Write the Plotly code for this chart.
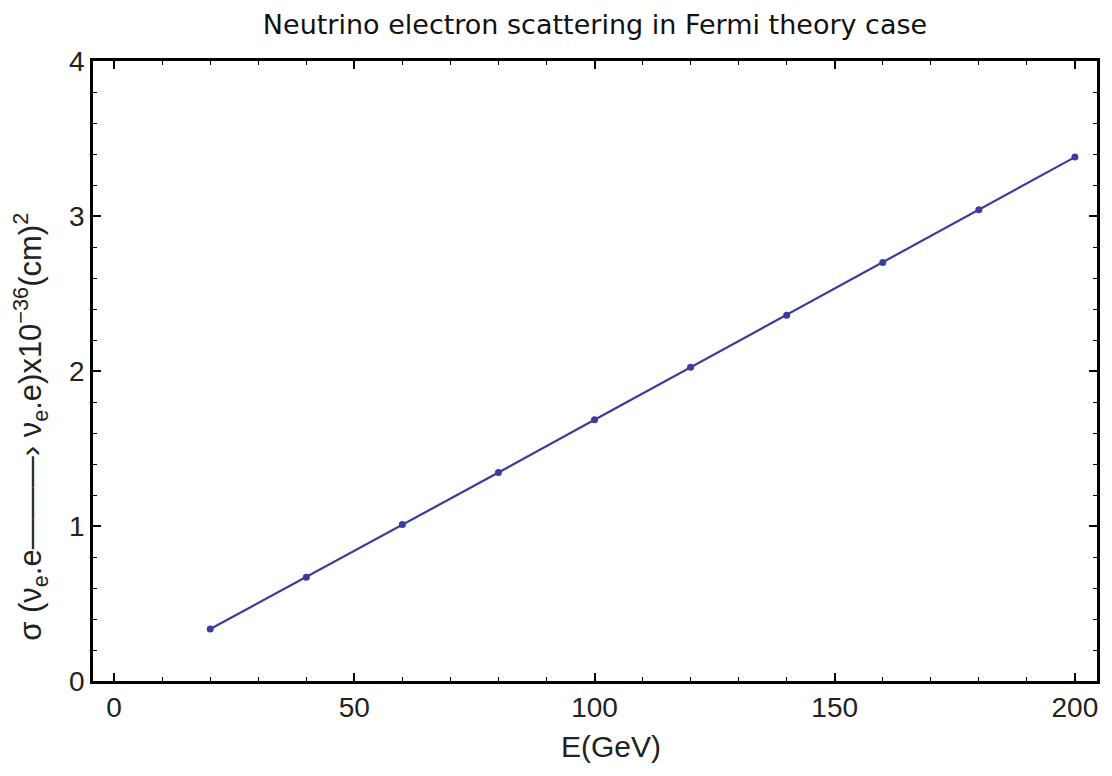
import plotly.graph_objects as go

energy = [20, 40, 60, 80, 100, 120, 140, 160, 180, 200]
sigma = [0.335, 0.67, 1.01, 1.345, 1.685, 2.025, 2.36, 2.70, 3.04, 3.38]

x_ticks = [0, 50, 100, 150, 200]
y_ticks = [0, 1, 2, 3, 4]

fig = go.Figure()
fig.add_trace(go.Scatter(
    x=energy, y=sigma, mode="lines+markers",
    line=dict(color="#3c3c9c", width=2.2),
    marker=dict(color="#3c3c9c", size=7),
    showlegend=False,
))

font_family = "Liberation Sans, Arial, sans-serif"
axis_common = dict(
    showline=True, linecolor="black", linewidth=2.5, mirror="ticks",
    ticks="inside", ticklen=8, tickwidth=1.5, tickcolor="black",
    showgrid=False, zeroline=False,
    tickfont=dict(size=28, color="#222", family=font_family),
)

fig.update_xaxes(
    range=[-4.4, 204.6], tickvals=x_ticks, ticktext=[str(v) for v in x_ticks],
    minor=dict(dtick=10, ticks="inside", ticklen=4, tickcolor="black", tickwidth=1.2),
    **axis_common,
)
fig.update_yaxes(
    range=[0, 4], tickvals=y_ticks, ticktext=[str(v) for v in y_ticks],
    minor=dict(dtick=0.2, ticks="inside", ticklen=4, tickcolor="black", tickwidth=1.2),
    **axis_common,
)

fig.add_annotation(
    text="σ (ν<sub>e</sub>.e———› ν<sub>e</sub>.e)x10<sup>−36</sup>(cm)<sup>2</sup>",
    xref="paper", yref="paper", x=0, y=0.41, xshift=-62,
    xanchor="center", yanchor="middle", textangle=-90, showarrow=False,
    font=dict(size=31, color="#222", family=font_family),
)
fig.add_annotation(
    text="E(GeV)",
    xref="paper", yref="paper", x=0.516, y=0, yshift=-65,
    xanchor="center", yanchor="middle", showarrow=False,
    font=dict(size=30, color="#222", family=font_family),
)

fig.update_layout(
    width=1112, height=776,
    margin=dict(l=93, r=12, t=61, b=95),
    paper_bgcolor="white", plot_bgcolor="white",
    title=dict(text="Neutrino electron scattering in Fermi theory case",
               x=0.5, xref="paper", xanchor="center", y=0.968, yanchor="middle",
               font=dict(size=27, color="#111", family="DejaVu Sans, sans-serif")),
)

fig.write_html("out.html")
